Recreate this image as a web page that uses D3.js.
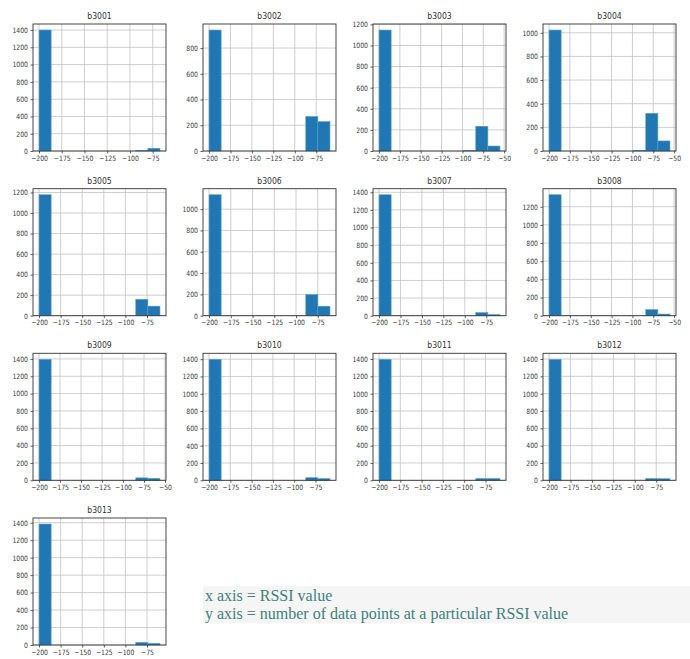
<!DOCTYPE html>
<html><head><meta charset="utf-8">
<script src="https://cdn.jsdelivr.net/npm/d3@7"></script>
<style>body{margin:0;background:#fff}svg{display:block}</style></head>
<body>
<svg id="c" width="690" height="659"></svg>
<script>
// ---- data ----
const titles = ["b3001","b3002","b3003","b3004","b3005","b3006","b3007","b3008","b3009","b3010","b3011","b3012","b3013"];
const rssiMin = -200;
const rssiMax = [-67,-59,-55,-55,-60,-61,-59,-55,-56,-58,-58,-59,-60];
const counts = [
  [1400,0,0,0,0,0,0,0,8,31],
  [940,0,0,0,0,0,0,0,268,228],
  [1146,0,0,0,0,0,0,5,234,47],
  [1023,0,0,0,0,0,0,6,319,85],
  [1178,0,0,0,0,0,0,0,160,93],
  [1135,0,0,0,0,0,0,0,198,89],
  [1372,0,0,0,0,0,0,0,35,13],
  [1332,0,0,0,0,0,0,0,67,18],
  [1395,0,0,0,0,0,0,0,28,22],
  [1398,0,0,0,0,0,0,0,30,19],
  [1396,0,0,0,0,0,0,0,20,20],
  [1396,0,0,0,0,0,0,0,20,18],
  [1385,0,0,0,0,0,0,0,30,19]
];
const xTicks = [-200,-175,-150,-125,-100,-75,-50];
const noteLines = ["x axis = RSSI value","y axis = number of data points at a particular RSSI value"];

// ---- layout ----
const svg = d3.select("#c");
const colLeft = [33,203,373,543];
const rowTop = [24,188.7,353.3,518];
const W = 133, H = 127, SX = 0.84;
const fmt = d3.format("d");

titles.forEach((t,i)=>{
  const c = i%4, r = Math.floor(i/4);
  const g = svg.append("g").attr("transform",`translate(${colLeft[c]},${rowTop[r]})`);
  const lo = rssiMin, hi = rssiMax[i], S = hi-lo, bw = S/10;
  const x = d3.scaleLinear().domain([lo-0.05*S, hi+0.05*S]).range([0,W]);
  const cmax = d3.max(counts[i]);
  const y = d3.scaleLinear().domain([0,cmax*1.05]).range([H,0]);
  const xt = xTicks.filter(v=>v>=x.domain()[0] && v<=x.domain()[1]);
  const yt = y.ticks(6);

  // grid
  g.selectAll("line.gx").data(xt).join("line").attr("class","gx")
    .attr("x1",d=>x(d)).attr("x2",d=>x(d)).attr("y1",0).attr("y2",H)
    .attr("stroke","#c8c8c8").attr("stroke-width",0.9);
  g.selectAll("line.gy").data(yt).join("line").attr("class","gy")
    .attr("y1",d=>y(d)).attr("y2",d=>y(d)).attr("x1",0).attr("x2",W)
    .attr("stroke","#c8c8c8").attr("stroke-width",0.9);

  // bars
  g.selectAll("rect.bar").data(counts[i]).join("rect").attr("class","bar")
    .attr("x",(d,k)=>x(lo+k*bw)).attr("width",(d,k)=>x(lo+(k+1)*bw)-x(lo+k*bw))
    .attr("y",d=>y(d)).attr("height",d=>H-y(d))
    .attr("fill","#1f77b4")
    .attr("stroke",d=>d>0?"#5b9bcf":"none").attr("stroke-width",0.6);

  // axes
  const ax = g.append("g").attr("transform",`translate(0,${H})`)
    .call(d3.axisBottom(x).tickValues(xt).tickSize(2.5).tickPadding(2).tickFormat(fmt));
  const ay = g.append("g")
    .call(d3.axisLeft(y).tickValues(yt).tickSize(2.5).tickPadding(2).tickFormat(fmt));
  [ax,ay].forEach(a=>{
    a.select(".domain").remove();
    a.selectAll("line").attr("stroke","#333").attr("stroke-width",0.8);
    a.selectAll("text").attr("font-family","DejaVu Sans").attr("font-size",7.3)
      .attr("fill","#3a3a3a").attr("transform",`scale(${SX},1)`);
  });
  ay.selectAll("text").attr("x",-5/SX);

  // frame
  g.append("rect").attr("width",W).attr("height",H).attr("fill","none")
    .attr("stroke","#333").attr("stroke-width",0.9);

  // title
  g.append("text").attr("transform",`translate(${W/2},-5) scale(${SX},1)`)
    .attr("text-anchor","middle").attr("font-family","DejaVu Sans").attr("font-size",9.2)
    .attr("fill","#333").text(t);
});

// note box
const note = svg.append("g");
note.append("rect").attr("x",203).attr("y",586).attr("width",487).attr("height",37).attr("fill","#f5f5f5");
note.selectAll("text").data(noteLines).join("text")
  .attr("x",205).attr("y",(d,k)=>600.5+k*18.5)
  .attr("font-family","Liberation Serif").attr("font-size",16)
  .attr("fill","#3e817c").text(d=>d);
</script>
</body></html>
